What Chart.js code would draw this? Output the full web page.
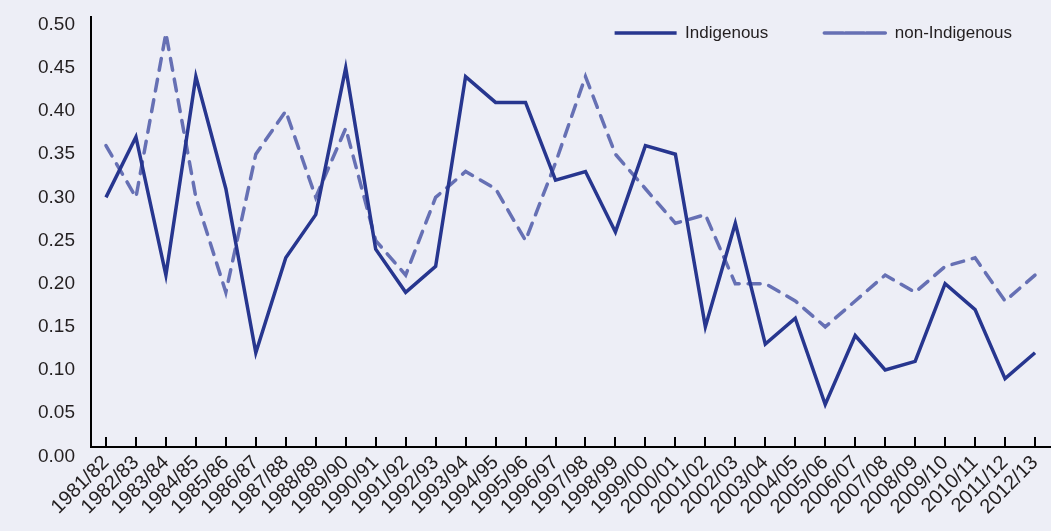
<!DOCTYPE html>
<html><head><meta charset="utf-8">
<script src="https://cdn.jsdelivr.net/npm/chart.js@4/dist/chart.umd.min.js"></script>
<style>html,body{margin:0;padding:0;background:#EDEEF6;overflow:hidden;}</style>
</head><body>
<canvas id="c" width="1051" height="531" style="display:block;width:1051px;height:531px"></canvas>
<script>
const categories = ["1981/82","1982/83","1983/84","1984/85","1985/86","1986/87","1987/88","1988/89","1989/90","1990/91","1991/92","1992/93","1993/94","1994/95","1995/96","1996/97","1997/98","1998/99","1999/00","2000/01","2001/02","2002/03","2003/04","2004/05","2005/06","2006/07","2007/08","2008/09","2009/10","2010/11","2011/12","2012/13"];
const indigenous = [0.30,0.37,0.21,0.44,0.31,0.12,0.23,0.28,0.45,0.24,0.19,0.22,0.44,0.41,0.41,0.32,0.33,0.26,0.36,0.35,0.15,0.27,0.13,0.16,0.06,0.14,0.10,0.11,0.20,0.17,0.09,0.12];
const nonIndigenous = [0.36,0.30,0.49,0.30,0.19,0.35,0.40,0.30,0.38,0.25,0.21,0.30,0.33,0.31,0.25,0.34,0.44,0.35,0.31,0.27,0.28,0.20,0.20,0.18,0.15,0.18,0.21,0.19,0.22,0.23,0.18,0.21];
const yTickValues = [0.00,0.05,0.10,0.15,0.20,0.25,0.30,0.35,0.40,0.45,0.50];

const FONT = '"Liberation Sans", Arial, sans-serif';
const TEXT = '#231F20';
const LEGEND_SIZE = 17;

// places the legend inside the plot area, at its top right
const legendInside = {
  id: 'legendInside',
  afterLayout(chart) {
    const L = chart.legend;
    if (!L) return;
    const p = L.options.labels.padding;
    L.top = chart.chartArea.top + 16 - LEGEND_SIZE / 2 - p;
    L.bottom = L.top + 2 * p + LEGEND_SIZE + 10;
    L.right = chart.chartArea.right + 18;
  }
};

new Chart(document.getElementById('c'), {
  type: 'line',
  data: {
    labels: categories,
    datasets: [
      {label: 'Indigenous', data: indigenous, borderColor: '#27368F', backgroundColor: '#27368F',
       borderWidth: 3.5, pointRadius: 0, tension: 0, borderCapStyle: 'butt', borderJoinStyle: 'miter'},
      {label: 'non-Indigenous', data: nonIndigenous, borderColor: '#6670B4', backgroundColor: '#6670B4',
       borderWidth: 3.5, borderDash: [12, 9], borderCapStyle: 'round', pointRadius: 0, tension: 0}
    ]
  },
  plugins: [legendInside],
  options: {
    responsive: false,
    animation: false,
    layout: {padding: {left: 22, right: 1, top: 16, bottom: -2}},
    plugins: {
      tooltip: {enabled: false},
      legend: {
        position: 'top', align: 'end', maxHeight: 1,
        labels: {boxWidth: 62, boxHeight: 0, padding: 56, color: TEXT,
                 font: {family: FONT, size: LEGEND_SIZE}}
      }
    },
    scales: {
      x: {
        offset: true,
        afterFit: (s) => { s.paddingLeft = 0; s.paddingRight = 0; },
        grid: {display: true, drawOnChartArea: false, drawTicks: true, tickLength: -10, color: '#000', lineWidth: 2},
        border: {display: true, color: '#000', width: 2},
        ticks: {autoSkip: false, minRotation: 45, maxRotation: 45, padding: 14, color: TEXT,
                font: {family: FONT, size: 20}}
      },
      y: {
        min: 0.0109, max: 0.509,
        afterBuildTicks: (scale) => { scale.ticks = yTickValues.map(v => ({value: v})); },
        afterFit: (s) => { s.paddingTop = 0; s.paddingBottom = 0; },
        grid: {display: false, drawTicks: false},
        border: {display: true, color: '#000', width: 2},
        ticks: {autoSkip: false, padding: 16, color: TEXT, font: {family: FONT, size: 19},
                callback: (v) => Number(v).toFixed(2)}
      }
    }
  }
});
</script>
</body></html>
